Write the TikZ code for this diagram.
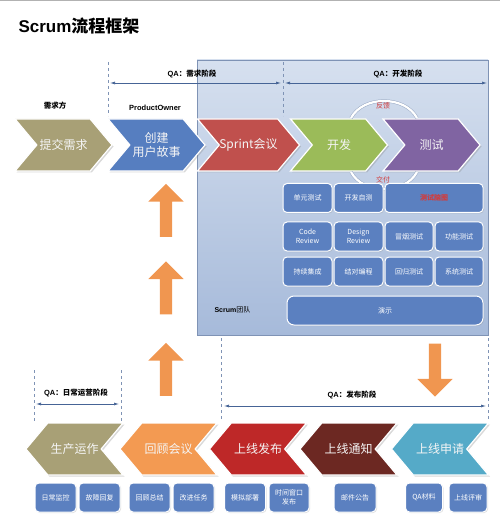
\documentclass[tikz,border=0pt]{standalone}
\usepackage{fontspec}
\setmainfont{Noto Sans CJK SC}
\newfontfamily\latinbold{Liberation Sans}
\usetikzlibrary{arrows.meta, positioning, shapes.symbols, shapes.arrows, shadows}
\definecolor{chevolive}{RGB}{168,160,118}
\definecolor{chevblue}{RGB}{86,126,192}
\definecolor{chevred}{RGB}{192,80,77}
\definecolor{chevgreen}{RGB}{155,187,89}
\definecolor{chevpurple}{RGB}{128,100,162}
\definecolor{chevorange}{RGB}{243,154,82}
\definecolor{chevcrimson}{RGB}{190,40,40}
\definecolor{chevbrown}{RGB}{108,40,34}
\definecolor{chevteal}{RGB}{85,170,200}
\definecolor{boxblue}{RGB}{91,128,192}
\definecolor{panelline}{RGB}{127,147,181}
\definecolor{qablue}{RGB}{70,100,150}
\definecolor{arroworange}{RGB}{240,150,80}
\definecolor{fbred}{RGB}{210,60,60}

\tikzset{
  chevright/.style={signal, signal to=east, signal from=west, signal pointer angle=100,
    minimum width=97pt, minimum height=52pt, inner sep=0pt, draw=white, line width=1.2pt,
    text=white!92!gray, font=\fontsize{12}{14}\selectfont, align=center,
    drop shadow={opacity=0.3, shadow xshift=1.5pt, shadow yshift=-1.5pt}},
  chevleft/.style={chevright, signal to=west, signal from=east},
  taskbox/.style={draw=white, line width=1pt, fill=boxblue, rounded corners=4pt, text=white,
    font=\fontsize{7}{8.5}\selectfont, align=center, inner sep=1pt, minimum height=29pt,
    drop shadow={opacity=0.25, shadow xshift=1pt, shadow yshift=-1pt}},
  qalabel/.style={font=\fontsize{7.5}{9}\selectfont\bfseries},
  qaline/.style={qablue, line width=0.7pt, {Latex[length=5pt,width=3pt]}-{Latex[length=5pt,width=3pt]}},
  divider/.style={panelline, dashed, line width=0.6pt},
  bigarrow/.style={single arrow, fill=arroworange, inner sep=6pt, single arrow head extend=11.5pt,
    single arrow tip angle=90, minimum height=53pt},
  loopline/.style={draw=panelline!80, line width=0.5pt, double=white, double distance=2.2pt}
}

\begin{document}
\begin{tikzpicture}[x=1pt, y=-1pt]
    \useasboundingbox (0,0) rectangle (500,526);
    \draw[gray!60, line width=1pt] (0,0.5) -- (500,0.5);

    % Title
    \node[anchor=west, font=\fontsize{17}{20}\selectfont\bfseries] (title) at (15,26) {{\latinbold\bfseries Scrum}流程框架};

    % Scrum team panel
    \shade[top color={rgb,255:red,214;green,224;blue,239}, bottom color={rgb,255:red,166;green,186;blue,218}, draw=panelline] (197,60) rectangle (488,335);
    \node[anchor=west, font=\fontsize{7}{8}\selectfont] (team) at (211,310) {{\latinbold\bfseries Scrum}团队};

    % Phase dividers (top)
    \draw[divider] (108,62) -- (108,116);
    \draw[divider] (283,62) -- (283,116);
    \coordinate (reqL) at (110,83);
    \coordinate (reqR) at (281,83);
    \coordinate (devL) at (285,83);
    \coordinate (devR) at (487,83);
    \draw[qaline] (reqL) -- (reqR);
    \draw[qaline] (devL) -- (devR);
    \node[qalabel] (qareq) at (192,74) {{\latinbold QA}：需求阶段};
    \node[qalabel] (qadev) at (398,74) {{\latinbold QA}：开发阶段};

    % Roles
    \node[qalabel] (roleA) at (55,106) {需求方};
    \node[qalabel, font=\latinbold\fontsize{7.5}{9}\selectfont\bfseries] (roleB) at (155,108) {ProductOwner};

    % Top chevron row
    \node[chevright, fill=chevolive] (submit) at (63.5,145) {提交需求};
    \node[chevright, fill=chevblue] (story) at (156.5,145) {创建\\用户故事};
    \node[chevright, fill=chevred] (sprint) at (248.5,145) {Sprint会议};
    \node[chevright, fill=chevgreen] (dev) at (339,145) {开发};
    \node[chevright, fill=chevpurple] (test) at (431.5,145) {测试};

    % Feedback / delivery loop
    \coordinate (fbL) at (351,118);
    \coordinate (fbR) at (417,118);
    \coordinate (dlL) at (351,172);
    \coordinate (dlR) at (417,172);
    \draw[loopline] (fbL) to[bend left=62] (fbR);
    \draw[loopline] (dlL) to[bend right=62] (dlR);
    \node[text=fbred, font=\fontsize{7}{8}\selectfont] (fb) at (383,106) {反馈};
    \node[text=fbred, font=\fontsize{7}{8}\selectfont] (dl) at (383,180) {交付};

    % Practices
    \node[taskbox, minimum width=49pt] (unit) at (307.5,198) {单元测试};
    \node[taskbox, minimum width=49pt] (selftest) at (358.5,198) {开发自测};
    \node[taskbox, minimum width=98pt, text=fbred, font=\fontsize{7}{8.5}\selectfont\bfseries] (mindmap) at (434,198) {测试脑图};
    \node[taskbox, minimum width=49pt] (coderev) at (307.5,236.5) {Code\\Review};
    \node[taskbox, minimum width=49pt] (designrev) at (358.5,236.5) {Design\\Review};
    \node[taskbox, minimum width=48pt] (smoke) at (409,236.5) {冒烟测试};
    \node[taskbox, minimum width=48pt] (func) at (459,236.5) {功能测试};
    \node[taskbox, minimum width=49pt] (ci) at (307.5,271.5) {持续集成};
    \node[taskbox, minimum width=49pt] (pair) at (358.5,271.5) {结对编程};
    \node[taskbox, minimum width=48pt] (regress) at (409,271.5) {回归测试};
    \node[taskbox, minimum width=48pt] (system) at (459,271.5) {系统测试};
    \node[taskbox, minimum width=196pt, rounded corners=7pt] (demo) at (385,310.5) {演示};

    % Flow arrows
    \node[bigarrow, rotate=90] (up1) at (166,213.5) {};
    \node[bigarrow, rotate=90] (up2) at (166,291) {};
    \node[bigarrow, rotate=90] (up3) at (166,372.5) {};
    \node[bigarrow, rotate=-90] (down) at (435,367) {};

    % Phase dividers (bottom)
    \draw[divider] (34,370) -- (34,422);
    \draw[divider] (121,370) -- (121,422);
    \draw[divider] (221,338) -- (221,420);
    \draw[divider] (488,338) -- (488,420);
    \coordinate (opsL) at (36,404);
    \coordinate (opsR) at (119,404);
    \coordinate (relL) at (224,406);
    \coordinate (relR) at (486,406);
    \draw[qaline] (opsL) -- (opsR);
    \draw[qaline] (relL) -- (relR);
    \node[qalabel] (qaops) at (76,393) {{\latinbold QA}：日常运营阶段};
    \node[qalabel] (qarel) at (352,395) {{\latinbold QA}：发布阶段};

    % Bottom chevron row
    \node[chevleft, fill=chevolive] (prod) at (74.5,449) {生产运作};
    \node[chevleft, fill=chevorange] (retro) at (168.5,449) {回顾会议};
    \node[chevleft, fill=chevcrimson] (release) at (258,449) {上线发布};
    \node[chevleft, fill=chevbrown] (notify) at (348.5,449) {上线通知};
    \node[chevleft, fill=chevteal] (apply) at (440,449) {上线申请};

    % Release tasks
    \node[taskbox, minimum width=41pt] (monitor) at (55.5,497.5) {日常监控};
    \node[taskbox, minimum width=41pt] (recover) at (99.5,497.5) {故障回复};
    \node[taskbox, minimum width=41pt] (summary) at (149.5,497.5) {回顾总结};
    \node[taskbox, minimum width=41pt] (improve) at (193.5,497.5) {改进任务};
    \node[taskbox, minimum width=41pt] (mockdeploy) at (245,497.5) {模拟部署};
    \node[taskbox, minimum width=40pt] (window) at (289,497.5) {时间窗口\\发布};
    \node[taskbox, minimum width=42pt] (mail) at (355,497.5) {邮件公告};
    \node[taskbox, minimum width=37pt] (qadoc) at (424,497.5) {QA材料};
    \node[taskbox, minimum width=38pt] (review) at (468,497.5) {上线评审};
\end{tikzpicture}
\end{document}
